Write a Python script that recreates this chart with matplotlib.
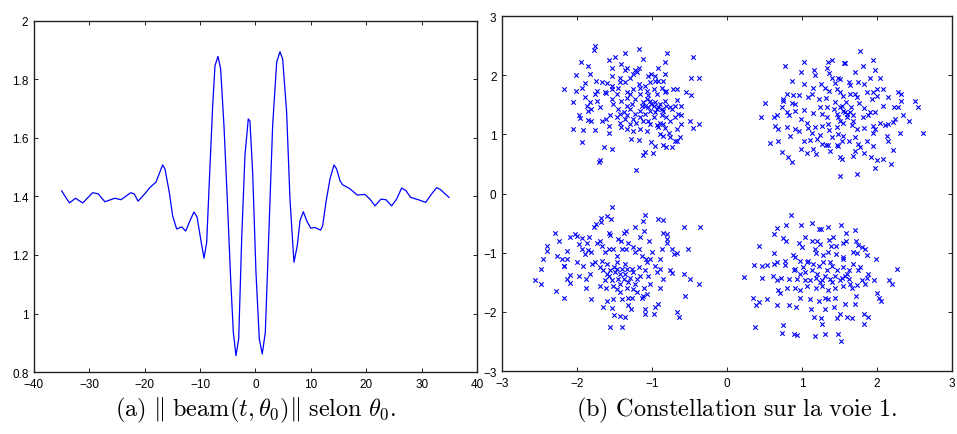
import matplotlib
matplotlib.use("Agg")
from matplotlib import pyplot as plt

plt.rcParams["font.family"] = ["Liberation Sans", "DejaVu Sans"]
plt.rcParams["mathtext.fontset"] = "cm"

# (a) beam norm against theta_0
beam_x = [-35.0, -33.6, -32.5, -31.2, -29.4, -28.4, -27.2, -25.4, -24.3, -22.5, -21.9, -21.2,
          -20.0, -19.05, -17.97, -16.76, -16.34, -15.56, -14.96, -14.24, -13.33, -12.6, -11.83,
          -11.11, -10.55, -9.9, -9.3, -8.81, -8.34, -7.73, -7.31, -6.77, -6.29, -5.69, -5.09,
          -4.48, -4.0, -3.52, -3.03, -2.49, -1.9, -1.3, -1.0, -0.51, 0.09, 0.69, 1.23, 1.78,
          2.38, 3.1, 3.83, 4.42, 4.91, 5.63, 6.23, 6.95, 7.55, 8.04, 8.64, 9.3, 9.97, 10.74,
          11.77, 12.13, 12.73, 13.45, 14.18, 14.66, 15.26, 15.74, 16.94, 18.39, 19.77, 20.68,
          21.58, 22.66, 23.56, 24.59, 25.49, 26.4, 27.18, 28.02, 29.4, 30.74, 31.82, 32.72,
          33.32, 34.94]
beam_y = [1.419, 1.378, 1.394, 1.378, 1.413, 1.409, 1.382, 1.394, 1.389, 1.413, 1.409, 1.384,
          1.409, 1.431, 1.449, 1.508, 1.494, 1.414, 1.334, 1.289, 1.296, 1.282, 1.317,
          1.347, 1.33, 1.255, 1.189, 1.243, 1.449, 1.71, 1.847, 1.879, 1.836, 1.642, 1.391,
          1.118, 0.936, 0.856, 0.913, 1.255, 1.54, 1.665, 1.658, 1.483, 1.141, 0.913, 0.862, 0.936,
          1.255, 1.642, 1.859, 1.895, 1.87, 1.688, 1.391, 1.175, 1.232, 1.317, 1.348, 1.315, 1.292, 1.294,
          1.285, 1.3, 1.38, 1.46, 1.508, 1.494, 1.454, 1.44, 1.428, 1.405, 1.407, 1.391,
          1.368, 1.391, 1.389, 1.368, 1.391, 1.429, 1.42, 1.397, 1.389, 1.38, 1.409, 1.43,
          1.425, 1.397]

# (b) constellation, one list pair per quadrant
q1_x = [-1.76, -1.78, -1.18, -1.36, -0.80, -0.45, -1.49, -1.57, -1.12, -1.95, -1.85, -0.83, -1.41,
        -1.34, -1.53, -1.18, -1.23, -1.36, -0.92, -2.02, -1.83, -1.54, -1.25, -1.20, -1.05, -1.01,
        -0.96, -0.83, -1.43, -1.29, -0.92, -0.48, -0.38, -1.89, -1.75, -1.67, -1.60, -1.53, -1.43,
        -1.36, -1.18, -1.09, -1.03, -0.96, -0.85, -2.18, -2.02, -1.94, -1.74, -1.63, -1.54, -1.45,
        -1.34, -1.25, -1.16, -1.07, -0.98, -0.87, -0.81, -0.72, -0.67, -0.55, -0.48, -1.76, -1.61,
        -1.47, -1.29, -1.16, -1.05, -0.94, -0.83, -2.05, -1.90, -1.83, -1.74, -1.54, -1.41, -1.34,
        -1.23, -1.12, -1.03, -0.96, -0.89, -0.83, -0.67, -1.87, -1.81, -1.69, -1.52, -1.45, -1.34,
        -1.27, -1.14, -1.05, -0.98, -0.92, -0.87, -0.76, -0.69, -0.61, -1.85, -1.56, -1.43, -1.34,
        -1.23, -1.16, -1.09, -0.96, -0.85, -0.74, -0.65, -1.98, -1.96, -1.85, -1.61, -1.47, -1.36,
        -1.25, -1.16, -1.05, -0.98, -0.89, -0.81, -0.69, -0.61, -0.49, -1.81, -1.67, -1.43, -1.29,
        -1.21, -1.12, -1.03, -0.94, -0.85, -0.76, -0.61, -0.38, -2.06, -1.92, -1.76, -1.58, -1.58,
        -1.41, -1.34, -1.25, -1.16, -1.07, -0.92, -0.83, -0.78, -0.67, -0.45, -0.89, -0.85, -0.76,
        -0.69, -0.63, -1.28, -1.17, -1.93, -1.64, -1.53, -1.01, -0.96, -0.85, -0.81, -0.74, -0.67,
        -1.09, -1.12, -0.99, -1.69, -1.71, -1.21, -1.07, -1.01, -0.94, -1.09, -1.03, -0.87, -0.81,
        -1.29, -1.38]
q1_y = [2.49, 2.43, 2.44, 2.37, 2.37, 2.30, 2.30, 2.26, 2.28, 2.22, 2.16, 2.23, 2.19, 2.13, 2.12,
        2.13, 2.08, 2.08, 2.12, 2.01, 2.02, 1.99, 2.02, 2.05, 1.99, 2.02, 1.99, 2.02, 1.96, 1.95,
        1.91, 1.96, 1.96, 1.86, 1.90, 1.88, 1.86, 1.82, 1.88, 1.89, 1.85, 1.82, 1.88, 1.91, 1.91,
        1.76, 1.74, 1.79, 1.74, 1.71, 1.77, 1.78, 1.71, 1.77, 1.79, 1.74, 1.77, 1.79, 1.74, 1.76,
        1.76, 1.71, 1.67, 1.68, 1.70, 1.68, 1.68, 1.68, 1.67, 1.68, 1.71, 1.55, 1.63, 1.54, 1.57,
        1.60, 1.57, 1.61, 1.60, 1.54, 1.57, 1.54, 1.51, 1.57, 1.58, 1.48, 1.43, 1.46, 1.51, 1.43,
        1.48, 1.51, 1.48, 1.46, 1.48, 1.46, 1.43, 1.46, 1.48, 1.48, 1.40, 1.32, 1.34, 1.32, 1.34,
        1.40, 1.34, 1.37, 1.40, 1.43, 1.34, 1.32, 1.27, 1.24, 1.26, 1.29, 1.26, 1.26, 1.29, 1.23,
        1.30, 1.20, 1.29, 1.30, 1.33, 1.23, 1.23, 1.23, 1.20, 1.17, 1.20, 1.23, 1.17, 1.16, 1.17,
        1.23, 1.17, 1.17, 1.09, 1.08, 1.08, 1.14, 1.03, 1.12, 1.09, 1.06, 1.09, 1.06, 1.12, 1.10,
        1.03, 1.09, 1.10, 1.01, 0.97, 0.95, 0.89, 0.95, 0.92, 0.90, 0.87, 0.79, 0.75, 0.87, 0.81,
        0.82, 0.79, 0.78, 0.88, 0.70, 0.65, 0.68, 0.56, 0.54, 0.40, 1.60, 1.51, 1.43, 1.48, 1.40,
        1.32, 1.48, 1.43, 1.37]

q2_x = [1.77, 0.77, 1.02, 1.34, 1.40, 1.56, 1.57, 1.95, 1.81, 0.99, 1.16, 1.17, 1.33, 1.36, 1.40,
        1.48, 1.70, 1.97, 2.04, 1.91, 0.86, 1.03, 1.25, 1.31, 1.36, 1.44, 1.51, 1.62, 1.64, 1.75,
        1.82, 1.86, 1.95, 2.00, 2.08, 2.28, 2.32, 0.80, 0.88, 0.96, 0.75, 0.74, 0.86, 0.91, 1.13,
        1.15, 1.22, 1.32, 1.46, 1.51, 1.55, 1.64, 1.71, 1.73, 1.93, 2.00, 2.15, 2.32, 2.51, 2.54,
        0.51, 0.73, 0.80, 0.91, 1.03, 1.08, 1.24, 1.33, 1.43, 1.53, 1.59, 1.65, 1.76, 1.82, 1.91,
        1.97, 2.08, 2.23, 2.28, 0.45, 0.62, 0.67, 0.83, 0.98, 1.15, 1.26, 1.33, 1.46, 1.51, 1.57,
        1.60, 1.68, 1.81, 1.88, 2.04, 2.11, 2.24, 2.34, 2.42, 0.64, 0.68, 0.80, 0.91, 1.06, 1.08,
        1.17, 1.26, 1.35, 1.46, 1.55, 1.66, 1.73, 1.82, 1.95, 1.97, 2.15, 2.21, 0.84, 0.96, 1.13,
        1.24, 1.36, 1.40, 1.48, 1.55, 1.71, 1.86, 1.95, 2.13, 2.30, 2.61, 0.57, 0.68, 1.02, 1.11,
        1.20, 1.34, 1.32, 1.46, 1.53, 1.62, 1.75, 1.94, 2.14, 0.99, 1.15, 1.26, 1.37, 1.48, 1.51,
        1.53, 1.68, 1.71, 1.77, 1.82, 0.73, 0.81, 0.86, 1.06, 1.19, 1.92, 2.00, 2.08, 2.21, 2.18,
        1.97, 1.73, 1.50, 1.51, 1.55, 1.60, 1.48, 1.64, 1.44, 1.68]
q2_y = [2.41, 2.15, 2.22, 2.22, 2.25, 2.21, 2.21, 2.25, 2.16, 2.06, 2.08, 2.00, 2.13, 2.04, 1.96,
        1.96, 2.06, 2.09, 1.96, 1.95, 1.90, 1.85, 1.85, 1.79, 1.74, 1.86, 1.94, 1.88, 1.83, 1.88,
        1.85, 1.71, 1.71, 1.77, 1.76, 1.71, 1.69, 1.69, 1.67, 1.67, 1.60, 1.56, 1.53, 1.51, 1.68,
        1.79, 1.60, 1.61, 1.76, 1.71, 1.65, 1.68, 1.68, 1.63, 1.60, 1.65, 1.64, 1.57, 1.57, 1.47,
        1.53, 1.46, 1.37, 1.40, 1.42, 1.63, 1.47, 1.47, 1.43, 1.48, 1.54, 1.46, 1.53, 1.44, 1.37,
        1.38, 1.48, 1.47, 1.47, 1.29, 1.29, 1.32, 1.32, 1.26, 1.36, 1.34, 1.29, 1.34, 1.23, 1.37,
        1.29, 1.23, 1.29, 1.32, 1.20, 1.15, 1.26, 1.32, 1.23, 1.14, 1.09, 1.12, 1.09, 1.20, 1.10,
        1.12, 1.14, 1.17, 1.12, 1.20, 1.16, 1.09, 1.10, 1.14, 1.09, 1.17, 1.21, 0.97, 1.06, 1.03,
        0.99, 1.08, 0.95, 1.01, 0.97, 0.95, 0.88, 1.02, 0.97, 1.02, 1.02, 0.86, 0.88, 0.89, 0.90,
        0.93, 0.82, 0.82, 0.82, 0.89, 0.89, 0.84, 0.81, 0.89, 0.76, 0.76, 0.84, 0.72, 0.81, 0.62,
        0.58, 0.64, 0.72, 0.78, 0.68, 0.71, 0.61, 0.53, 0.68, 0.67, 0.61, 0.56, 0.59, 0.74, 0.50,
        0.43, 0.33, 0.29, 1.46, 1.40, 1.34, 1.29, 1.37, 1.54, 1.32]

q3_x = [-1.54, -1.60, -1.55, -1.68, -1.75, -1.77, -1.68, -1.09, -1.12, -0.92, -0.85, -0.58, -0.36,
        -2.29, -2.24, -2.10, -2.03, -2.00, -1.94, -1.84, -1.87, -1.70, -1.58, -1.56, -1.45, -1.38,
        -1.35, -1.42, -1.23, -1.11, -0.85, -0.80, -0.80, -0.80, -1.04, -1.16, -2.40, -2.40, -2.45,
        -2.27, -2.20, -2.13, -2.13, -1.97, -1.94, -1.90, -1.85, -1.82, -1.74, -1.67, -1.63, -1.58,
        -1.52, -1.47, -1.40, -1.35, -1.32, -1.26, -1.23, -1.18, -1.14, -1.08, -1.00, -1.03, -0.89,
        -0.87, -0.74, -0.67, -0.52, -0.71, -2.48, -2.56, -2.48, -2.17, -2.18, -2.09, -2.13, -2.10,
        -2.00, -1.97, -1.92, -1.88, -1.83, -1.80, -1.76, -1.69, -1.65, -1.63, -1.57, -1.51, -1.47,
        -1.43, -1.38, -1.34, -1.29, -1.25, -1.23, -1.18, -1.16, -1.07, -1.09, -1.05, -1.03, -0.96,
        -0.94, -0.89, -0.85, -0.76, -0.74, -0.57, -0.49, -0.38, -2.28, -2.17, -1.88, -1.82, -1.69,
        -1.61, -1.60, -1.52, -1.47, -1.43, -1.34, -1.25, -1.20, -1.52, -1.40, -1.32, -1.27, -1.14,
        -1.12, -1.07, -1.11, -0.89, -0.56, -1.65, -1.54, -1.32, -1.28, -1.09, -1.09, -0.96, -0.98,
        -0.92, -0.67, -0.64, -1.51, -1.43, -1.36, -1.56, -1.40, -1.60, -1.56, -1.49, -1.45, -1.40,
        -1.36, -1.32, -1.27, -1.60, -1.54, -1.43, -1.67, -1.36, -1.20, -1.47]
q3_y = [-0.23, -0.38, -0.43, -0.42, -0.52, -0.57, -0.48, -0.36, -0.47, -0.43, -0.45, -0.57, -0.57,
        -0.66, -0.81, -0.73, -0.69, -0.71, -0.76, -0.74, -0.84, -0.80, -0.66, -0.70, -0.77, -0.67,
        -0.63, -0.80, -0.57, -0.63, -0.66, -0.69, -0.77, -0.83, -0.81, -0.74, -0.89, -0.97, -1.11,
        -1.05, -1.11, -0.97, -1.10, -0.85, -0.93, -1.02, -0.95, -0.99, -0.83, -0.88, -0.99, -0.94,
        -0.93, -1.05, -0.94, -0.94, -0.83, -0.91, -0.99, -0.93, -1.05, -1.11, -0.99, -1.11, -1.11,
        -0.94, -0.93, -1.01, -0.93, -1.02, -1.28, -1.46, -1.53, -1.22, -1.23, -1.37, -1.45, -1.51,
        -1.15, -1.39, -1.22, -1.45, -1.36, -1.19, -1.16, -1.25, -1.30, -1.47, -1.39, -1.25, -1.16,
        -1.36, -1.45, -1.28, -1.42, -1.33, -1.53, -1.25, -1.39, -1.16, -1.30, -1.39, -1.53, -1.22,
        -1.33, -1.28, -1.45, -1.30, -1.34, -1.36, -1.45, -1.53, -1.64, -1.76, -1.60, -1.79, -1.57,
        -1.60, -1.81, -1.56, -1.61, -1.67, -1.59, -1.61, -1.67, -1.79, -1.78, -1.77, -1.76, -1.77,
        -1.73, -1.70, -1.60, -1.59, -1.74, -1.91, -1.94, -1.89, -1.95, -1.95, -2.04, -1.92, -2.04,
        -1.87, -2.01, -2.08, -2.05, -2.07, -2.09, -2.26, -2.25, -1.19, -1.30, -1.33, -1.45, -1.28,
        -1.36, -1.50, -1.28, -1.36, -1.47, -1.53, -1.14, -1.19, -1.45, -1.28]

q4_x = [0.85, 0.67, 0.78, 0.98, 1.13, 1.23, 1.25, 1.34, 1.52, 1.59, 1.70, 0.63, 0.74, 0.78, 0.96,
        1.04, 1.13, 1.20, 1.24, 1.36, 1.41, 1.38, 1.45, 1.55, 1.59, 1.72, 1.75, 1.80, 1.84, 0.43,
        0.63, 0.88, 0.91, 1.00, 1.08, 1.17, 1.19, 1.28, 1.34, 1.45, 1.54, 1.55, 1.68, 1.73, 1.86,
        1.99, 0.36, 0.46, 0.53, 0.63, 0.66, 0.77, 0.77, 0.91, 0.89, 1.01, 1.06, 1.15, 1.22, 1.28,
        1.37, 1.40, 1.55, 1.63, 1.68, 1.74, 1.77, 1.88, 2.26, 0.23, 0.46, 0.61, 0.66, 0.72, 0.83,
        0.93, 0.97, 1.04, 1.11, 1.19, 1.24, 1.31, 1.37, 1.44, 1.51, 1.57, 1.62, 1.64, 1.73, 1.80,
        1.84, 1.86, 1.96, 2.16, 2.20, 0.68, 0.71, 0.80, 0.91, 0.97, 1.06, 1.19, 1.26, 1.35, 1.44,
        1.55, 1.66, 1.72, 2.00, 2.02, 2.05, 0.35, 0.39, 0.42, 0.53, 0.66, 0.82, 0.97, 1.11, 1.22,
        1.31, 1.35, 1.44, 1.57, 1.71, 0.92, 1.12, 1.30, 1.43, 1.16, 1.25, 1.46, 1.50, 1.60, 1.66,
        1.83, 1.88, 1.82, 1.27, 0.37, 0.74, 0.73, 0.89, 0.93, 1.17, 1.30, 1.48, 1.52, 0.97, 1.13,
        1.20, 1.33, 1.46, 1.53, 1.60, 1.04, 1.26, 1.40]
q4_y = [-0.36, -0.59, -0.54, -0.54, -0.49, -0.60, -0.60, -0.56, -0.54, -0.67, -0.62, -0.69, -0.76,
        -0.80, -0.83, -0.74, -0.80, -0.81, -0.85, -0.78, -0.74, -0.88, -0.88, -0.84, -0.80, -0.81,
        -0.87, -0.90, -0.94, -0.88, -1.01, -1.04, -1.08, -0.90, -1.14, -0.94, -1.01, -1.04, -0.99,
        -1.02, -1.08, -1.11, -0.99, -1.01, -1.04, -1.11, -1.21, -1.23, -1.21, -1.19, -1.15, -1.14,
        -1.21, -1.28, -1.30, -1.25, -1.16, -1.19, -1.22, -1.16, -1.16, -1.22, -1.25, -1.30, -1.19,
        -1.29, -1.25, -1.36, -1.28, -1.41, -1.43, -1.40, -1.46, -1.42, -1.45, -1.45, -1.36, -1.47,
        -1.47, -1.43, -1.50, -1.40, -1.45, -1.39, -1.47, -1.39, -1.45, -1.53, -1.55, -1.47, -1.53,
        -1.43, -1.46, -1.47, -1.53, -1.63, -1.68, -1.59, -1.60, -1.63, -1.57, -1.60, -1.56, -1.63,
        -1.59, -1.56, -1.59, -1.73, -1.68, -1.76, -1.81, -1.76, -1.89, -1.83, -1.78, -1.89, -1.89,
        -1.77, -1.79, -1.81, -1.77, -1.78, -1.77, -1.86, -1.87, -1.91, -1.95, -1.96, -1.91, -2.08,
        -2.11, -2.11, -2.04, -2.08, -2.10, -2.04, -2.08, -2.21, -2.21, -2.25, -2.22, -2.35, -2.37,
        -2.39, -2.41, -2.37, -2.37, -2.49, -1.14, -1.30, -1.36, -1.30, -1.30, -1.42, -1.36, -1.33,
        -1.47, -1.50]

const_x = q1_x + q2_x + q3_x + q4_x
const_y = q1_y + q2_y + q3_y + q4_y

fig = plt.figure(figsize=(9.57, 4.35), dpi=100)
ax1 = fig.add_axes([0.0355, 0.1425, 0.4629, 0.807])
ax2 = fig.add_axes([0.5246, 0.1448, 0.4702, 0.816])

ax1.plot(beam_x, beam_y, color="#0000ff", lw=0.9)
ax1.set_xlim(-40, 40)
ax1.set_ylim(0.8, 2)
ax1.set_xticks(range(-40, 41, 10))
ax1.set_yticks([0.8, 1.0, 1.2, 1.4, 1.6, 1.8, 2.0])
ax1.set_yticklabels(["0.8", "1", "1.2", "1.4", "1.6", "1.8", "2"])

ax2.scatter(const_x, const_y, marker="x", s=10, color="#0000ff", linewidths=0.8)
ax2.set_xlim(-3, 3)
ax2.set_ylim(-3, 3)
ax2.set_xticks(range(-3, 4))
ax2.set_yticks(range(-3, 4))

for ax in (ax1, ax2):
    ax.tick_params(direction="in", top=True, right=True, labelsize=8.5,
                   length=3, width=0.6, pad=4)
    for sp in ax.spines.values():
        sp.set_linewidth(1.0)
        sp.set_color("#222222")

fig.text(0.267, 0.057, r"$\mathrm{(a)}\ \|\ \mathrm{beam}(t,\theta_0)\|\ \mathrm{selon}\ \theta_0.$",
         ha="center", va="center", fontsize=17.5)
fig.text(0.77, 0.057, r"$\mathrm{(b)\ Constellation\ sur\ la\ voie\ 1.}$",
         ha="center", va="center", fontsize=17.5)

fig.savefig("out.png", dpi=100)
